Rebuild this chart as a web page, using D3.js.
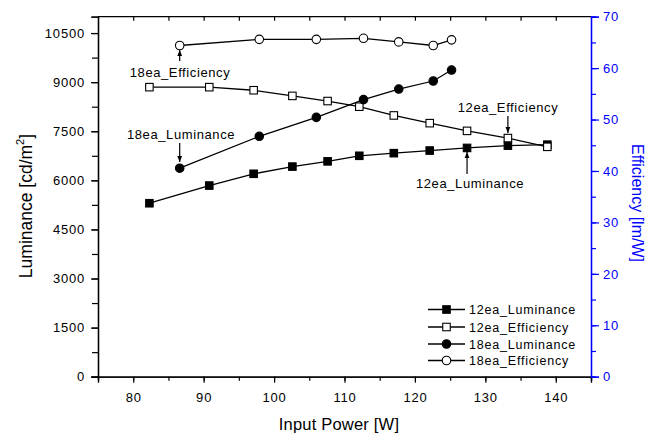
<!DOCTYPE html>
<html><head><meta charset="utf-8">
<script src="https://cdn.jsdelivr.net/npm/d3@7"></script>
<style>body{margin:0;background:#fff}svg{display:block}text{font-family:"Liberation Sans",Arial,sans-serif}</style>
</head><body><svg id="c" width="648" height="434"></svg>
<script>
const power12 = [82.3, 90.8, 97.1, 102.6, 107.6, 112.1, 117.0, 122.1, 127.4, 133.2, 138.8];
const lum12 = [5300, 5840, 6200, 6420, 6580, 6750, 6830, 6910, 6990, 7060, 7090];
const eff12 = [56.3, 56.3, 55.7, 54.6, 53.6, 52.5, 50.8, 49.3, 47.8, 46.4, 44.7];
const power18 = [86.6, 97.9, 106.0, 112.7, 117.7, 122.6, 125.2];
const lum18 = [6370, 7345, 7925, 8465, 8790, 9035, 9370];
const eff18 = [64.4, 65.6, 65.6, 65.8, 65.1, 64.4, 65.5];
const xTicks = [80, 90, 100, 110, 120, 130, 140];
const yLTicks = [0, 1500, 3000, 4500, 6000, 7500, 9000, 10500];
const yRTicks = [0, 10, 20, 30, 40, 50, 60, 70];
const legendLabels = ["12ea_Luminance", "12ea_Efficiency", "18ea_Luminance", "18ea_Efficiency"];

const svg = d3.select("#c");
const L = 98, R = 591, T = 16.7, B = 376.7;
const x = d3.scaleLinear().domain([75, 145]).range([L, R]);
const yL = d3.scaleLinear().domain([0, 11000]).range([B, T]);
const yR = d3.scaleLinear().domain([0, 70]).range([B, T]);
const blue = "#0000ff";
const TS = 13, LS = 0.8;

svg.append("defs").append("marker").attr("id", "ah").attr("viewBox", "0 0 10 10")
  .attr("refX", 10).attr("refY", 5).attr("markerWidth", 6).attr("markerHeight", 6)
  .attr("markerUnits", "userSpaceOnUse").attr("orient", "auto")
  .append("path").attr("d", "M0,1 L10,5 L0,9 Z").attr("fill", "#000");

// frame top
svg.append("line").attr("x1", L).attr("x2", R).attr("y1", T).attr("y2", T).attr("stroke", "#000").attr("stroke-width", 1.3);

// bottom axis
const minorX = d3.range(75, 146, 5);
const gx = svg.append("g").attr("transform", `translate(0,${B})`);
gx.call(d3.axisBottom(x).tickValues(minorX).tickSize(4).tickFormat(""));
const gx2 = svg.append("g").attr("transform", `translate(0,${B})`);
gx2.call(d3.axisBottom(x).tickValues(xTicks).tickSize(6).tickPadding(10).tickFormat(d3.format("d")));
[gx, gx2].forEach(g => { g.select(".domain").attr("stroke-width", 1.3); g.selectAll("text").attr("font-size", TS).attr("letter-spacing", LS).attr("fill", "#000"); g.selectAll(".tick line").attr("stroke-width", 1.2); });
// top ticks
svg.append("g").attr("transform", `translate(0,${T})`)
  .call(d3.axisBottom(x).tickValues(minorX.filter(v => v > 75 && v < 145)).tickSize(4).tickFormat(""))
  .call(g => { g.select(".domain").remove(); g.selectAll(".tick line").attr("stroke-width", 1.2); });

// left axis
const minorYL = d3.range(0, 11001, 750);
const gl = svg.append("g").attr("transform", `translate(${L},0)`);
gl.call(d3.axisLeft(yL).tickValues(minorYL).tickSize(6).tickFormat(""));
const gl2 = svg.append("g").attr("transform", `translate(${L},0)`);
gl2.call(d3.axisLeft(yL).tickValues(yLTicks).tickSize(7).tickPadding(6).tickFormat(d3.format("d")));
[gl, gl2].forEach(g => { g.select(".domain").attr("stroke-width", 1.3); g.selectAll("text").attr("font-size", TS).attr("letter-spacing", LS).attr("fill", "#000"); g.selectAll(".tick line").attr("stroke-width", 1.2); });

// right axis
const minorYR = d3.range(0, 71, 5);
const gr = svg.append("g").attr("transform", `translate(${R},0)`);
gr.call(d3.axisRight(yR).tickValues(minorYR).tickSize(5).tickFormat(""));
const gr2 = svg.append("g").attr("transform", `translate(${R},0)`);
gr2.call(d3.axisRight(yR).tickValues(yRTicks).tickSize(8).tickPadding(4).tickFormat(d3.format("d")));
[gr, gr2].forEach(g => { g.select(".domain").attr("stroke", blue).attr("stroke-width", 1.3); g.selectAll(".tick line").attr("stroke", blue).attr("stroke-width", 1.2); g.selectAll("text").attr("font-size", TS).attr("letter-spacing", LS).attr("fill", blue); });

// axis titles
svg.append("text").attr("x", 339).attr("y", 430).attr("text-anchor", "middle").attr("font-size", 16.5).attr("letter-spacing", 0.2).text("Input Power [W]");
const lt = svg.append("text").attr("transform", `translate(31.5,206) rotate(-90)`).attr("text-anchor", "middle").attr("font-size", 17.5);
lt.append("tspan").text("Luminance [cd/m");
lt.append("tspan").attr("font-size", 11).attr("dy", -8).text("2");
lt.append("tspan").attr("dy", 8).text("]");
svg.append("text").attr("transform", `translate(632,203) rotate(90)`).attr("text-anchor", "middle").attr("font-size", 16).attr("fill", blue).text("Efficiency [lm/W]");

// series
const series = [
  {xs: power12, ys: lum12, y: yL, shape: "square", fill: "#000"},
  {xs: power12, ys: eff12, y: yR, shape: "square", fill: "#fff"},
  {xs: power18, ys: lum18, y: yL, shape: "circle", fill: "#000"},
  {xs: power18, ys: eff18, y: yR, shape: "circle", fill: "#fff"}
];
const line = d3.line();
function drawMarker(g, shape, fill, cx, cy, s) {
  if (shape === "square") {
    g.append("rect").attr("x", cx - s / 2).attr("y", cy - s / 2).attr("width", s).attr("height", s)
      .attr("fill", fill).attr("stroke", "#000").attr("stroke-width", 1.1);
  } else {
    g.append("circle").attr("cx", cx).attr("cy", cy).attr("r", s / 2 + 0.5)
      .attr("fill", fill).attr("stroke", "#000").attr("stroke-width", 1.1);
  }
}
series.forEach(s => {
  const pts = s.xs.map((v, i) => [x(v), s.y(s.ys[i])]);
  svg.append("path").attr("d", line(pts)).attr("fill", "none").attr("stroke", "#000").attr("stroke-width", 1.3);
  const g = svg.append("g");
  pts.forEach(p => drawMarker(g, s.shape, s.fill, p[0], p[1], 7.5));
});

// annotations
const ann = [
  {text: "18ea_Efficiency", px: x(power18[0]), py: yR(eff18[0]), tx: 180, ty: 77, a1: 61, a2: 50},
  {text: "18ea_Luminance", px: x(power18[0]), py: yL(lum18[0]), tx: 181, ty: 139, a1: 143, a2: 162},
  {text: "12ea_Efficiency", px: x(power12[9]), py: yR(eff12[9]), tx: 508, ty: 112, a1: 116, a2: 133},
  {text: "12ea_Luminance", px: x(power12[8]), py: yL(lum12[8]), tx: 470, ty: 188, a1: 174, a2: 152}
];
ann.forEach(a => {
  svg.append("text").attr("x", a.tx).attr("y", a.ty).attr("text-anchor", "middle").attr("font-size", 13).attr("letter-spacing", 0.6).text(a.text);
  svg.append("line").attr("x1", a.px).attr("x2", a.px).attr("y1", a.a1).attr("y2", a.a2)
    .attr("stroke", "#000").attr("stroke-width", 1.2).attr("marker-end", "url(#ah)");
});

// legend
const legY = [309.5, 327, 344, 360.5];
series.forEach((s, i) => {
  const g = svg.append("g");
  g.append("line").attr("x1", 428).attr("x2", 465).attr("y1", legY[i]).attr("y2", legY[i]).attr("stroke", "#000").attr("stroke-width", 1.3);
  drawMarker(g, s.shape, s.fill, 446.5, legY[i], 7.5);
  g.append("text").attr("x", 469).attr("y", legY[i] + 4.5).attr("font-size", 12.5).attr("letter-spacing", 0.8).text(legendLabels[i]);
});
</script></body></html>
